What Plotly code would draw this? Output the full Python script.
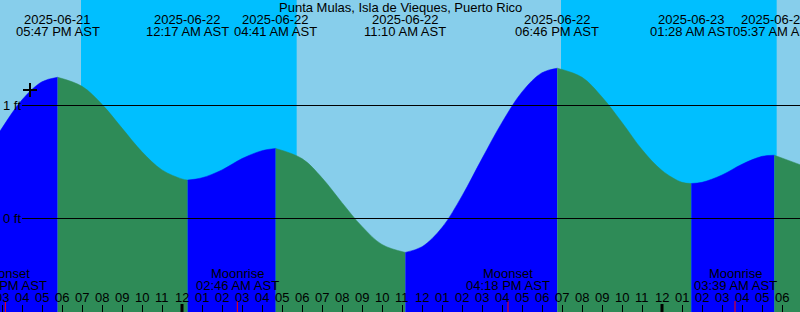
import plotly.graph_objects as go
import pandas as pd

TITLE = "Punta Mulas, Isla de Vieques, Puerto Rico"

# Tide curve samples, feet
tide_times = [
    "2025-06-21 14:00", "2025-06-21 15:00", "2025-06-21 16:00", "2025-06-21 17:00",
    "2025-06-21 17:47",
    "2025-06-21 19:00", "2025-06-21 20:00", "2025-06-21 21:00", "2025-06-21 22:00",
    "2025-06-21 23:00", "2025-06-22 00:00",
    "2025-06-22 00:17",
    "2025-06-22 01:00", "2025-06-22 02:00", "2025-06-22 03:00", "2025-06-22 04:00",
    "2025-06-22 04:41",
    "2025-06-22 06:00", "2025-06-22 07:00", "2025-06-22 08:00", "2025-06-22 09:00",
    "2025-06-22 10:00",
    "2025-06-22 11:10",
    "2025-06-22 12:00", "2025-06-22 13:00", "2025-06-22 14:00", "2025-06-22 15:00",
    "2025-06-22 16:00", "2025-06-22 17:00", "2025-06-22 18:00",
    "2025-06-22 18:46",
    "2025-06-22 20:00", "2025-06-22 21:00", "2025-06-22 22:00", "2025-06-22 23:00",
    "2025-06-23 00:00", "2025-06-23 01:00",
    "2025-06-23 01:28",
    "2025-06-23 02:00", "2025-06-23 03:00", "2025-06-23 04:00", "2025-06-23 05:00",
    "2025-06-23 05:37",
    "2025-06-23 07:00",
]
tide_heights = [
    0.52, 0.80, 1.05, 1.21,
    1.25,
    1.17, 1.01, 0.80, 0.59,
    0.43, 0.35,
    0.34,
    0.36, 0.43, 0.53, 0.60,
    0.62,
    0.53, 0.36, 0.14, -0.07,
    -0.23,
    -0.30,
    -0.25, -0.08, 0.20, 0.53,
    0.85, 1.12, 1.29,
    1.33,
    1.25, 1.075, 0.85, 0.61,
    0.425, 0.32,
    0.31,
    0.32, 0.385, 0.48, 0.55,
    0.56,
    0.47,
]

# High / low tide events
extreme_times = ["2025-06-21 17:47", "2025-06-22 00:17", "2025-06-22 04:41",
                 "2025-06-22 11:10", "2025-06-22 18:46", "2025-06-23 01:28",
                 "2025-06-23 05:37"]
extreme_dates = ["2025-06-21", "2025-06-22", "2025-06-22", "2025-06-22",
                 "2025-06-22", "2025-06-23", "2025-06-23"]
extreme_clock = ["05:47 PM AST", "12:17 AM AST", "04:41 AM AST", "11:10 AM AST",
                 "06:46 PM AST", "01:28 AM AST", "05:37 AM AST"]

# Night periods (sunset -> sunrise)
night_start = ["2025-06-21 18:57", "2025-06-22 18:57"]
night_end = ["2025-06-22 05:44", "2025-06-23 05:44"]

# Moon events
moon_times = ["2025-06-21 15:10", "2025-06-22 02:46", "2025-06-22 16:18", "2025-06-23 03:39"]
moon_names = ["Moonset", "Moonrise", "Moonset", "Moonrise"]
moon_clock = ["03:10 PM AST", "02:46 AM AST", "04:18 PM AST", "03:39 AM AST"]

# Hour ticks
hour_start = "2025-06-21 15:00"
hour_labels = ["03", "04", "05", "06", "07", "08", "09", "10", "11", "12",
               "01", "02", "03", "04", "05", "06", "07", "08", "09", "10", "11", "12",
               "01", "02", "03", "04", "05", "06", "07", "08", "09", "10", "11", "12",
               "01", "02", "03", "04", "05", "06", "07"]
midnights = ["2025-06-22 00:00", "2025-06-23 00:00"]

# "now" marker
now_time = "2025-06-21 16:24"
now_height = 1.137

height_levels = [0, 1]
height_level_labels = ["0 ft", "1 ft"]

X_RANGE = ["2025-06-21 14:54", "2025-06-23 06:54"]
Y_RANGE = [-0.8274, 1.9336]
H = 312.0

DAY = "#87CEEB"
NIGHT = "#00BFFF"
RISE = "#0000FF"
FALL = "#2E8B57"
FONT = "Liberation Sans, Arial, sans-serif"
FS = 13

fig = go.Figure()

# split tide curve into segments between extremes
idx = [tide_times.index(t) for t in extreme_times]
bounds = [0] + idx + [len(tide_times) - 1]
for a, b in zip(bounds[:-1], bounds[1:]):
    if b <= a:
        continue
    xs = tide_times[a:b + 1]
    ys = tide_heights[a:b + 1]
    color = RISE if ys[-1] > ys[0] else FALL
    fig.add_trace(go.Scatter(x=[xs[0], xs[-1]], y=[-3, -3], mode="lines",
                             line=dict(width=0, color=color), hoverinfo="skip"))
    fig.add_trace(go.Scatter(x=xs, y=ys, mode="lines", fill="tonexty",
                             fillcolor=color, line=dict(width=0.5, color=color, shape="spline"),
                             hoverinfo="skip"))

fig.add_trace(go.Scatter(x=[now_time], y=[now_height], mode="markers",
                         marker=dict(symbol="cross-thin", size=10,
                                     line=dict(width=2, color="black")),
                         hoverinfo="skip"))

shapes = []
for s, e in zip(night_start, night_end):
    shapes.append(dict(type="rect", xref="x", yref="paper", x0=s, x1=e, y0=0, y1=1,
                       fillcolor=NIGHT, line=dict(width=0), layer="below"))
for lv in height_levels:
    shapes.append(dict(type="line", xref="paper", yref="y", x0=22 / 800, x1=1, y0=lv, y1=lv,
                       line=dict(color="black", width=1), layer="above"))
for m in midnights:
    shapes.append(dict(type="line", xref="x", yref="paper", x0=m, x1=m, y0=0, y1=8 / H,
                       line=dict(color="black", width=3), layer="above"))
for m in moon_times:
    shapes.append(dict(type="line", xref="x", yref="paper", x0=m, x1=m, y0=0, y1=11 / H,
                       line=dict(color="#FF0000", width=1), layer="above"))

ann = []


def txt(x, ypx, text, xref="x", xanchor="center"):
    ann.append(dict(x=x, y=1 - ypx / H, xref=xref, yref="paper", text=text,
                    showarrow=False, xanchor=xanchor, yanchor="middle",
                    font=dict(family=FONT, size=FS, color="black"), borderpad=0))


txt(0.5, 7.5, TITLE, xref="paper")
for t, d, c in zip(extreme_times, extreme_dates, extreme_clock):
    txt(t, 19.5, d)
    txt(t, 31.3, c)
for t, n, c in zip(moon_times, moon_names, moon_clock):
    txt(t, 273.8, n)
    txt(t, 285.8, c)
hour_times = pd.date_range(hour_start, periods=len(hour_labels), freq="h")
for t, lab in zip(hour_times, hour_labels):
    txt(t.strftime("%Y-%m-%d %H:%M"), 297.5, lab)
for lv, lab in zip(height_levels, height_level_labels):
    ann.append(dict(x=2 / 800, y=lv, xref="paper", yref="y", text=lab, showarrow=False,
                    xanchor="left", yanchor="middle",
                    font=dict(family=FONT, size=FS, color="black"), borderpad=0))

fig.update_layout(
    width=800, height=312, autosize=False,
    margin=dict(l=0, r=0, t=0, b=0, pad=0),
    paper_bgcolor=DAY, plot_bgcolor=DAY,
    showlegend=False,
    shapes=shapes, annotations=ann,
    xaxis=dict(type="date", range=X_RANGE, showgrid=False, zeroline=False,
               showline=False, showticklabels=False,
               tickmode="array", tickvals=list(hour_times),
               ticks="inside", ticklen=7, tickwidth=1, tickcolor="black",
               fixedrange=True),
    yaxis=dict(range=Y_RANGE, visible=False, fixedrange=True),
)

fig.write_html("out.html", config={"displayModeBar": False})
